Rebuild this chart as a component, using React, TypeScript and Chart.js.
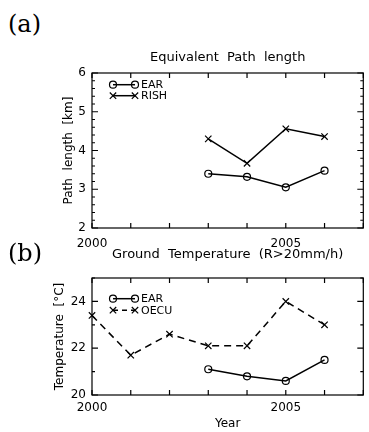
import React, { useEffect, useRef } from "react";
import { Chart, registerables } from "chart.js";
Chart.register(...registerables);

// ---- data ----
const yearsPath = [2003, 2004, 2005, 2006];
const earPath = [3.4, 3.32, 3.05, 3.48];
const rishPath = [4.3, 3.67, 4.56, 4.36];

const yearsOecu = [2000, 2001, 2002, 2003, 2004, 2005, 2006];
const oecuTemp = [23.4, 21.7, 22.6, 22.1, 22.1, 24.0, 23.0];
const yearsEarTemp = [2003, 2004, 2005, 2006];
const earTemp = [21.1, 20.8, 20.6, 21.5];

const xLabelYears = [2000, 2005];
const xTickYears = [2000, 2001, 2002, 2003, 2004, 2005, 2006, 2007];
const pathTickLabels = [2, 3, 4, 5, 6];
const tempTickLabels = [20, 22, 24];

const FONT = "'DejaVu Sans', sans-serif";

type Series = { label: string; xs: number[]; ys: number[]; marker: "circle" | "cross"; dash: number[] };
type PanelProps = {
  top: number;
  height: number;
  padTop: number;
  xAxisHeight: number;
  xLabelPad: number;
  yMin: number;
  yMax: number;
  yLabels: number[];
  yMinorStep: number;
  yMajorStep: number;
  title: string;
  titleY: number;
  yTitle: string;
  yTitleX: number;
  xTitle?: string;
  xTitleY?: number;
  series: Series[];
  legendX: number;
  legendY: number;
  legendDy: number;
};

function drawMarker(ctx: CanvasRenderingContext2D, kind: string, x: number, y: number) {
  ctx.save();
  ctx.setLineDash([]);
  ctx.lineWidth = 1.2;
  ctx.strokeStyle = "#000";
  ctx.beginPath();
  if (kind === "circle") {
    ctx.arc(x, y, 3.5, 0, Math.PI * 2);
  } else {
    const r = 3.2;
    ctx.moveTo(x - r, y - r);
    ctx.lineTo(x + r, y + r);
    ctx.moveTo(x - r, y + r);
    ctx.lineTo(x + r, y - r);
  }
  ctx.stroke();
  ctx.restore();
}

function Panel(p: PanelProps) {
  const ref = useRef<HTMLCanvasElement | null>(null);
  useEffect(() => {
    if (!ref.current) return;
    const decor = {
      id: "decor",
      afterDraw(chart: any) {
        const ctx: CanvasRenderingContext2D = chart.ctx;
        const { left, right, top, bottom } = chart.chartArea;
        const xs = chart.scales.x;
        const ys = chart.scales.y;
        ctx.save();
        ctx.strokeStyle = "#000";
        ctx.fillStyle = "#000";
        ctx.lineWidth = 1.2;
        ctx.setLineDash([]);
        ctx.strokeRect(left, top, right - left, bottom - top);
        // x ticks (inward, bottom and top)
        ctx.beginPath();
        for (const yr of xTickYears) {
          const px = xs.getPixelForValue(yr);
          ctx.moveTo(px, bottom);
          ctx.lineTo(px, bottom - 5);
          ctx.moveTo(px, top);
          ctx.lineTo(px, top + 5);
        }
        // y ticks (inward, left and right)
        const n = Math.round((p.yMax - p.yMin) / p.yMinorStep);
        for (let i = 0; i <= n; i++) {
          const v = p.yMin + i * p.yMinorStep;
          const r = (v - p.yMin) / p.yMajorStep;
          const major = Math.abs(r - Math.round(r)) < 1e-6;
          const len = major ? 6 : 3;
          const py = ys.getPixelForValue(v);
          ctx.moveTo(left, py);
          ctx.lineTo(left + len, py);
          ctx.moveTo(right, py);
          ctx.lineTo(right - len, py);
        }
        ctx.stroke();
        // title
        ctx.font = `13px ${FONT}`;
        ctx.textAlign = "center";
        ctx.textBaseline = "middle";
        ctx.fillText(p.title, (left + right) / 2, p.titleY);
        // y title
        ctx.save();
        ctx.translate(p.yTitleX, (top + bottom) / 2);
        ctx.rotate(-Math.PI / 2);
        ctx.font = `12px ${FONT}`;
        ctx.fillText(p.yTitle, 0, 0);
        ctx.restore();
        if (p.xTitle) {
          ctx.font = `12px ${FONT}`;
          ctx.fillText(p.xTitle, (left + right) / 2, p.xTitleY || 0);
        }
        // legend
        p.series.forEach((s, i) => {
          const ly = p.legendY + i * p.legendDy;
          const x1 = p.legendX;
          const x2 = p.legendX + 22;
          ctx.save();
          ctx.lineWidth = 1.5;
          ctx.setLineDash(s.dash.length ? [5, 4] : []);
          ctx.beginPath();
          ctx.moveTo(x1, ly);
          ctx.lineTo(x2, ly);
          ctx.stroke();
          ctx.restore();
          drawMarker(ctx, s.marker, x1, ly);
          drawMarker(ctx, s.marker, x2, ly);
          ctx.font = `11px ${FONT}`;
          ctx.textAlign = "left";
          ctx.fillText(s.label, x2 + 6, ly + 0.5);
        });
        ctx.restore();
      },
    };

    const chart = new Chart(ref.current, {
      type: "line",
      data: {
        datasets: p.series.map((s) => ({
          label: s.label,
          data: s.xs.map((x, i) => ({ x, y: s.ys[i] })),
          borderColor: "#000",
          borderWidth: 1.5,
          borderDash: s.dash,
          pointStyle: s.marker === "circle" ? "circle" : "crossRot",
          pointRadius: s.marker === "circle" ? 3.5 : 4.5,
          pointBorderWidth: 1.2,
          pointBorderColor: "#000",
          pointBackgroundColor: "rgba(0,0,0,0)",
          fill: false,
          tension: 0,
          clip: false as any,
        })),
      },
      options: {
        animation: false,
        responsive: false,
        maintainAspectRatio: false,
        layout: { padding: { top: p.padTop, left: 0, right: 3, bottom: 0 } },
        plugins: { legend: { display: false }, title: { display: false }, tooltip: { enabled: false } },
        scales: {
          x: {
            type: "linear",
            min: 2000,
            max: 2007,
            grid: { display: false, drawTicks: false },
            border: { display: false },
            ticks: {
              color: "#000",
              font: { size: 12, family: FONT },
              padding: p.xLabelPad,
              maxRotation: 0,
              autoSkip: false,
              callback: (v: any) => String(v),
            },
            afterBuildTicks: (scale: any) => {
              scale.ticks = xLabelYears.map((v) => ({ value: v }));
            },
            afterFit: (scale: any) => {
              scale.height = p.xAxisHeight;
            },
          },
          y: {
            type: "linear",
            min: p.yMin,
            max: p.yMax,
            grid: { display: false, drawTicks: false },
            border: { display: false },
            ticks: { color: "#000", font: { size: 12, family: FONT }, padding: 6, callback: (v: any) => String(v) },
            afterBuildTicks: (scale: any) => {
              scale.ticks = p.yLabels.map((v) => ({ value: v }));
            },
            afterFit: (scale: any) => {
              scale.width = 92;
            },
          },
        },
      },
      plugins: [decor],
    } as any);
    return () => chart.destroy();
  }, []);
  return (
    <canvas
      ref={ref}
      width={369}
      height={p.height}
      style={{ position: "absolute", left: 0, top: p.top, width: 369, height: p.height }}
    />
  );
}

export default function App() {
  return (
    <div style={{ position: "absolute", left: 0, top: 0, width: 369, height: 432, background: "#fff", overflow: "hidden" }}>
      <Panel
        top={40}
        height={210}
        padTop={33}
        xAxisHeight={22}
        xLabelPad={9}
        yMin={2}
        yMax={6}
        yLabels={pathTickLabels}
        yMinorStep={0.2}
        yMajorStep={1}
        title="Equivalent  Path  length"
        titleY={18}
        yTitle="Path  length  [km]"
        yTitleX={69}
        series={[
          { label: "EAR", xs: yearsPath, ys: earPath, marker: "circle", dash: [] },
          { label: "RISH", xs: yearsPath, ys: rishPath, marker: "cross", dash: [] },
        ]}
        legendX={113}
        legendY={44.7}
        legendDy={11}
      />
      <Panel
        top={232}
        height={200}
        padTop={46}
        xAxisHeight={37}
        xLabelPad={6}
        yMin={20}
        yMax={25}
        yLabels={tempTickLabels}
        yMinorStep={1}
        yMajorStep={2}
        title="Ground  Temperature  (R>20mm/h)"
        titleY={23}
        yTitle="Temperature  [°C]"
        yTitleX={60}
        xTitle="Year"
        xTitleY={192}
        series={[
          { label: "EAR", xs: yearsEarTemp, ys: earTemp, marker: "circle", dash: [] },
          { label: "OECU", xs: yearsOecu, ys: oecuTemp, marker: "cross", dash: [7, 5] },
        ]}
        legendX={113}
        legendY={66.7}
        legendDy={11.5}
      />
      <div style={{ position: "absolute", left: 8, top: 10, fontFamily: "'DejaVu Serif', serif", fontSize: 24, lineHeight: "28px" }}>(a)</div>
      <div style={{ position: "absolute", left: 8, top: 239, fontFamily: "'DejaVu Serif', serif", fontSize: 24, lineHeight: "28px" }}>(b)</div>
    </div>
  );
}
